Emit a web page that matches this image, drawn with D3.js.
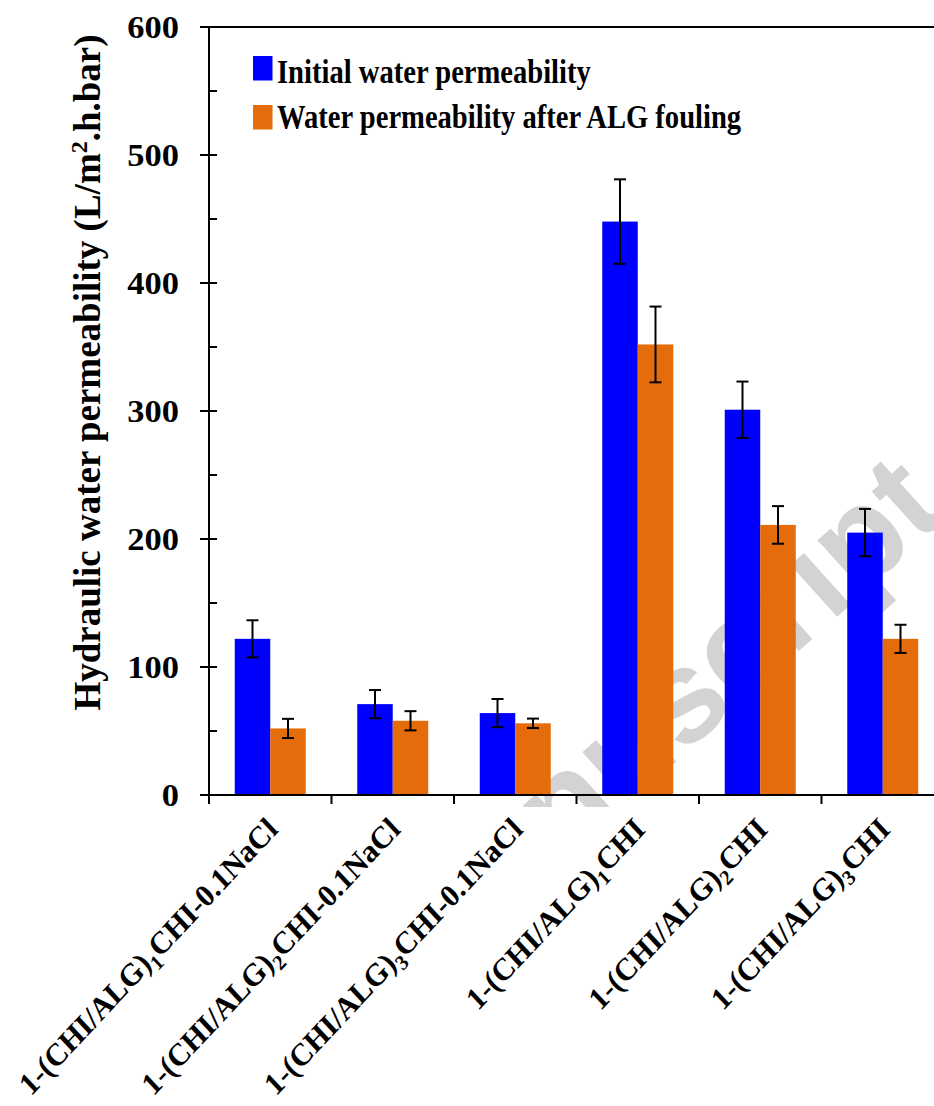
<!DOCTYPE html>
<html>
<head>
<meta charset="utf-8">
<script src="https://cdn.jsdelivr.net/npm/d3@7"></script>
<style>
  html, body { margin: 0; padding: 0; background: #fff; }
  svg { display: block; }
  text { font-family: "Liberation Serif", "Times New Roman", serif; font-weight: bold; fill: #000; }
</style>
</head>
<body>
<script>
// ---------------- data ----------------
const categories = [
  "1-(CHI/ALG)1CHI-0.1NaCl", "1-(CHI/ALG)2CHI-0.1NaCl", "1-(CHI/ALG)3CHI-0.1NaCl",
  "1-(CHI/ALG)1CHI", "1-(CHI/ALG)2CHI", "1-(CHI/ALG)3CHI"
];
const labelPrefix = ["1-(CHI/ALG)", "1-(CHI/ALG)", "1-(CHI/ALG)", "1-(CHI/ALG)", "1-(CHI/ALG)", "1-(CHI/ALG)"];
const labelSub    = ["1", "2", "3", "1", "2", "3"];
const labelSuffix = ["CHI-0.1NaCl", "CHI-0.1NaCl", "CHI-0.1NaCl", "CHI", "CHI", "CHI"];

const seriesNames = ["Initial water permeability", "Water permeability after ALG fouling"];
const initialValues = [122, 71, 64, 448, 301, 205];
const initialErrors = [14.5, 11, 11, 33, 22, 18.5];
const foulingValues = [52, 58, 56, 352, 211, 122];
const foulingErrors = [7.5, 7.5, 3.7, 29.6, 14.7, 11];

const yTickValues = [0, 100, 200, 300, 400, 500, 600];
const yMinorTickValues = [50, 150, 250, 350, 450, 550];
const yTitle = ["Hydraulic water permeability (L/m", "2", ".h.bar)"];
const watermark = "Accepted Manuscript";

const colors = ["#0000FF", "#E46C0A"];

// ---------------- layout ----------------
const W = 934, H = 1106;
const x0 = 209, x1 = 944, yTop = 27, yBot = 795;

const svg = d3.select("body").append("svg").attr("width", W).attr("height", H);

const y = d3.scaleLinear().domain([0, 600]).range([yBot, yTop]);
const x = d3.scaleBand().domain(categories).range([x0, x1]).paddingInner(0).paddingOuter(0);
const bw = x.bandwidth();
const xs = d3.scaleBand().domain(seriesNames).range([bw / 2 - 35.5, bw / 2 + 35.5]).padding(0);

// ---------------- watermark (behind) ----------------
svg.append("clipPath").attr("id", "wmclip")
  .append("rect").attr("x", 0).attr("y", 0).attr("width", W).attr("height", 807);
svg.append("g").attr("clip-path", "url(#wmclip)")
  .append("text")
  .attr("transform", "translate(950,515) rotate(-42)")
  .attr("text-anchor", "end")
  .style("font-family", "'Liberation Sans', Arial, sans-serif")
  .style("font-weight", "bold")
  .style("font-size", "132px")
  .style("fill", "#d3d3d3")
  .text(watermark);

// ---------------- bars ----------------
const series = [
  { name: seriesNames[0], values: initialValues, errors: initialErrors, color: colors[0] },
  { name: seriesNames[1], values: foulingValues, errors: foulingErrors, color: colors[1] }
];

const gBars = svg.append("g");
series.forEach(s => {
  gBars.selectAll(null).data(categories).enter().append("rect")
    .attr("x", (c) => x(c) + xs(s.name))
    .attr("y", (c, i) => y(s.values[i]))
    .attr("width", xs.bandwidth())
    .attr("height", (c, i) => y(0) - y(s.values[i]))
    .attr("fill", s.color);
});

// ---------------- error bars ----------------
const gErr = svg.append("g").attr("stroke", "#000").attr("stroke-width", 2);
series.forEach(s => {
  categories.forEach((c, i) => {
    const cx = x(c) + xs(s.name) + xs.bandwidth() / 2;
    const hi = y(s.values[i] + s.errors[i]);
    const lo = y(s.values[i] - s.errors[i]);
    gErr.append("line").attr("x1", cx).attr("x2", cx).attr("y1", hi).attr("y2", lo);
    gErr.append("line").attr("x1", cx - 6).attr("x2", cx + 6).attr("y1", hi).attr("y2", hi);
    gErr.append("line").attr("x1", cx - 6).attr("x2", cx + 6).attr("y1", lo).attr("y2", lo);
  });
});

// ---------------- axes ----------------
const gAx = svg.append("g").attr("stroke", "#000").attr("stroke-width", 2).attr("fill", "none");
gAx.append("line").attr("x1", 200).attr("x2", W).attr("y1", y(600)).attr("y2", y(600)).attr("stroke-width", 1.8);
gAx.append("line").attr("x1", x0).attr("x2", x0).attr("y1", y(600)).attr("y2", y(0));
gAx.append("line").attr("x1", 200).attr("x2", W).attr("y1", y(0)).attr("y2", y(0));
gAx.selectAll(null).data(yTickValues).enter().append("line")
  .attr("x1", 200).attr("x2", 217).attr("y1", d => y(d)).attr("y2", d => y(d));
gAx.selectAll(null).data(yMinorTickValues).enter().append("line")
  .attr("x1", x0).attr("x2", 217).attr("y1", d => y(d)).attr("y2", d => y(d));
const xBounds = categories.map(c => x(c));
gAx.selectAll(null).data(xBounds).enter().append("line")
  .attr("x1", d => d).attr("x2", d => d).attr("y1", y(0)).attr("y2", y(0) + 9);

// y tick labels
svg.append("g").selectAll(null).data(yTickValues).enter().append("text")
  .attr("transform", d => `translate(179,${y(d) + 11}) scale(1,0.9)`)
  .attr("text-anchor", "end")
  .style("font-size", "34.5px")
  .text(d => d);

// y title
const yt = svg.append("text")
  .attr("transform", `translate(100,${(712 + 33) / 2}) rotate(-90)`)
  .attr("text-anchor", "middle")
  .style("font-size", "37px");
yt.append("tspan").text(yTitle[0]);
yt.append("tspan").attr("dy", -13).style("font-size", "24px").text(yTitle[1]);
yt.append("tspan").attr("dy", 13).text(yTitle[2]);

// x labels
const gxl = svg.append("g");
categories.forEach((c, i) => {
  const cx = x(c) + bw / 2;
  const t = gxl.append("text")
    .attr("transform", `translate(${cx + 9},${y(0) + 36}) scale(1,1.07) rotate(-45)`)
    .attr("text-anchor", "end")
    .style("font-size", "29.6px");
  t.append("tspan").text(labelPrefix[i]);
  t.append("tspan").attr("dy", 7).style("font-size", "20px").text(labelSub[i]);
  t.append("tspan").attr("dy", -7).text(labelSuffix[i]);
});

// ---------------- legend ----------------
const legend = svg.append("g");
const legendRows = [{ sy: 56, base: 83 }, { sy: 105, base: 127.5 }];
series.forEach((s, i) => {
  legend.append("rect")
    .attr("x", 253).attr("y", legendRows[i].sy)
    .attr("width", 19.5).attr("height", 24.5)
    .attr("fill", s.color);
  legend.append("text")
    .attr("transform", `translate(277,${legendRows[i].base}) scale(1.01,1.18)`)
    .style("font-size", "28.3px")
    .text(s.name);
});
</script>
</body>
</html>
